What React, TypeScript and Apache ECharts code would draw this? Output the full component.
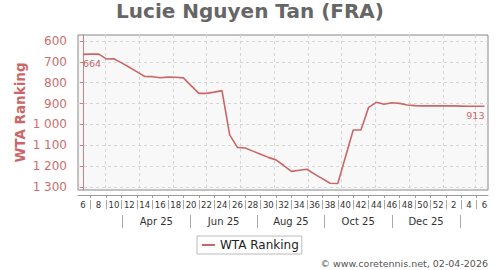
import { useEffect, useRef } from 'react';
import * as echarts from 'echarts';

const titleText = 'Lucie Nguyen Tan (FRA)';
const seriesName = 'WTA Ranking';
const footerText = '© www.coretennis.net, 02-04-2026';

// weekly rankings, first one on Monday 2025-02-24
const ranking = [
  664, 663, 662, 686, 685, 705, 726, 748, 770, 771, 776, 773, 774, 777, 814,
  851, 851, 845, 838, 1050, 1110, 1113, 1128, 1143, 1158, 1170, 1197, 1225,
  1220, 1215, 1238, 1260, 1282, 1283, 1155, 1027, 1027, 918, 894, 903, 896,
  899, 907, 910, 911, 911, 911, 911, 911, 912, 913, 913, 913,
];
const weekLabels = [
  '6', '8', '10', '12', '14', '16', '18', '20', '22', '24', '26', '28', '30',
  '32', '34', '36', '38', '40', '42', '44', '46', '48', '50', '52', '2', '4', '6',
];
const monthLabels = ['Apr 25', 'Jun 25', 'Aug 25', 'Oct 25', 'Dec 25'];
const yTicks = [600, 700, 800, 900, 1000, 1100, 1200, 1300];

const DAY = 86400000;
const t0 = Date.UTC(2025, 1, 24);
const dayOf = (y: number, m: number, d: number) => (Date.UTC(y, m, d) - t0) / DAY;

export default function App() {
  const ref = useRef<HTMLDivElement>(null);
  useEffect(() => {
    if (!ref.current) return;
    const chart = echarts.init(ref.current, null, { renderer: 'svg' });
    const font = 'DejaVu Sans';
    const red = '#cc6666';

    const data = ranking.map((v, i) => [i * 7, v]);
    const last = ranking.length - 1;
    const labelDays = weekLabels.map((_, k) => k * 14);
    const sepDays = ranking.map((_, i) => i).filter((i) => i % 2 === 1).map((i) => i * 7);
    const bounds = [3, 5, 7, 9, 11, 13].map((m) => dayOf(2025, m, 1));
    const monthMids = monthLabels.map((_, k) => (bounds[k] + bounds[k + 1]) / 2);
    const gridMids: number[] = [];
    for (let m = 2; m <= 13; m++) gridMids.push((dayOf(2025, m, 1) + dayOf(2025, m + 1, 1)) / 2);

    const xMin = -4.53;
    const xMax = 367.2;
    const dash = { color: '#d6d6d6', type: [3, 3] as any, width: 1 };

    chart.setOption({
      animation: false,
      textStyle: { fontFamily: font },
      title: {
        text: titleText,
        left: 'center',
        top: 1,
        padding: 0,
        textStyle: { fontFamily: font, fontSize: 20, fontWeight: 'bold', color: '#666666' },
      },
      legend: {
        data: [seriesName],
        left: 197,
        top: 236,
        padding: [3, 3, 3, 5],
        icon: 'rect',
        itemWidth: 13,
        itemHeight: 2,
        borderColor: '#bbbbbb',
        borderWidth: 1,
        backgroundColor: '#ffffff',
        borderRadius: 0,
        textStyle: { fontFamily: font, fontSize: 12, color: '#222222' },
      },
      grid: {
        left: 78,
        right: 12,
        top: 35,
        bottom: 80,
        show: true,
        backgroundColor: '#f8f8f8',
        borderColor: '#888888',
        borderWidth: 1,
      },
      xAxis: [
        {
          type: 'value', min: xMin, max: xMax, position: 'bottom', offset: 5,
          axisLine: { show: true, lineStyle: { color: '#999999', width: 1 } },
          axisTick: { show: true, length: 3, customValues: sepDays, lineStyle: { color: '#999999' } },
          axisLabel: {
            customValues: labelDays, margin: 5, fontSize: 8.5, color: '#333333', fontFamily: font,
            formatter: (v: number) => weekLabels[Math.round(v / 14)] ?? '',
          },
          splitLine: { show: false },
        },
        {
          type: 'value', min: xMin, max: xMax, position: 'bottom',
          axisLine: { show: false },
          axisTick: { show: false, customValues: gridMids },
          axisLabel: { show: false },
          splitLine: { show: true, lineStyle: dash },
        },
        {
          type: 'value', min: xMin, max: xMax, position: 'bottom', offset: 10,
          axisLine: { show: false },
          axisTick: { show: true, length: 9, customValues: sepDays, lineStyle: { color: '#aaaaaa' } },
          axisLabel: { show: false },
          splitLine: { show: false },
        },
        {
          type: 'value', min: xMin, max: xMax, position: 'bottom', offset: 25,
          axisLine: { show: false },
          axisTick: { show: true, length: 13, customValues: bounds, lineStyle: { color: '#aaaaaa' } },
          axisLabel: {
            customValues: monthMids, margin: 1, fontSize: 10, color: '#333333', fontFamily: font,
            formatter: (v: number) => {
              let best = 0;
              monthMids.forEach((m, k) => { if (Math.abs(m - v) < Math.abs(monthMids[best] - v)) best = k; });
              return monthLabels[best];
            },
          },
          splitLine: { show: false },
        },
      ],
      yAxis: {
        type: 'value',
        inverse: true,
        min: 571.2,
        max: 1314.4,
        offset: 5,
        name: seriesName,
        nameLocation: 'middle',
        nameGap: 46,
        nameMoveOverlap: false,
        nameTextStyle: { fontFamily: font, fontSize: 13.5, fontWeight: 'bold', color: red },
        axisLine: { show: true, lineStyle: { color: '#d08080', width: 1 } },
        axisTick: { show: true, length: 3, customValues: yTicks, lineStyle: { color: '#d08080' } },
        axisLabel: {
          customValues: yTicks, margin: 6, fontSize: 12, color: '#cc6e6e', fontFamily: font,
          formatter: (v: number) => (v >= 1000 ? `${Math.floor(v / 1000)} ${String(v % 1000).padStart(3, '0')}` : String(v)),
        },
        splitLine: { show: true, lineStyle: dash },
      },
      graphic: [
        {
          type: 'text', right: 12, top: 258,
          style: { text: footerText, fontFamily: font, fontSize: 9.5, fill: '#555555' },
        },
      ],
      series: [
        {
          name: seriesName,
          type: 'line',
          xAxisIndex: 0,
          yAxisIndex: 0,
          data,
          symbol: 'none',
          color: red,
          lineStyle: { color: red, width: 1.6 },
          z: 5,
          markPoint: {
            silent: true,
            symbol: 'circle',
            symbolSize: 0,
            itemStyle: { color: 'rgba(0,0,0,0)' },
            label: {
              show: true, position: 'bottom', distance: 4, formatter: '{c}',
              fontFamily: font, fontSize: 9.5, color: red,
            },
            data: [
              { coord: data[0], value: ranking[0], label: { align: 'left' } },
              { coord: data[last], value: ranking[last], label: { align: 'right' } },
            ],
          },
        },
      ],
    });
    return () => chart.dispose();
  }, []);
  return <div ref={ref} style={{ position: 'absolute', left: 0, top: 0, width: 500, height: 270 }} />;
}
